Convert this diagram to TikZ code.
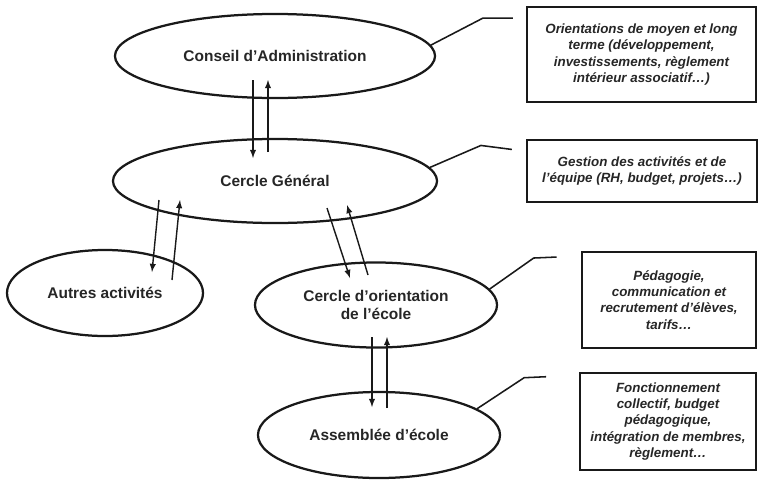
\documentclass[tikz,border=0pt]{standalone}
\usepackage{fontspec}
\setmainfont{Liberation Sans}
\usepackage{tikz}
\usetikzlibrary{arrows,arrows.meta}
\usetikzlibrary{shapes.geometric,calc}
\tikzset{>=latex}
\usepackage{xcolor}
\colorlet{linecol}{black!90}
\colorlet{textcol}{black!85}
\tikzstyle{cercle}=[ellipse,draw=linecol,line width=1.6pt,inner sep=0pt,align=center,
  text=textcol,font=\fontsize{11}{12.5}\selectfont\bfseries]
\tikzstyle{note}=[rectangle,draw=linecol,line width=1.9pt,inner sep=0pt,align=center,
  text=textcol,font=\fontsize{9.5}{11.6}\selectfont\bfseries\itshape]
\tikzstyle{flux}=[->,linecol,line width=1pt]
\tikzstyle{renvoi}=[linecol,line width=1.1pt]

\begin{document}
\begin{tikzpicture}[x=0.025cm,y=-0.025cm]
  \useasboundingbox (0,0) rectangle (758,481);
  % instances
  \node[cercle,minimum width=8cm,minimum height=2.1cm] (ca) at (275,56) {Conseil d’Administration};
  \node[cercle,minimum width=8.1cm,minimum height=2.1cm] (cg) at (275,181) {Cercle Général};
  \node[cercle,minimum width=4.9cm,minimum height=2.15cm] (aa) at (105,293) {Autres activités};
  \node[cercle,minimum width=6.05cm,minimum height=2.125cm] (co) at (376,305) {Cercle d'orientation\\de l'école};
  \node[cercle,minimum width=6.05cm,minimum height=2.15cm] (ae) at (379,435) {Assemblée d'école};
  % roles
  \node[note,minimum width=5.73cm,minimum height=2.375cm] (rca) at (641.5,54.5)
    {Orientations de moyen et long\\terme (développement,\\investissements, règlement\\intérieur associatif…)};
  \node[note,minimum width=5.75cm,minimum height=1.55cm] (rcg) at (642,171)
    {Gestion des activités et de\\l'équipe (RH, budget, projets…)};
  \node[note,minimum width=4.35cm,minimum height=2.4cm] (rco) at (669,300)
    {Pédagogie,\\communication et\\recrutement d'élèves,\\tarifs…};
  \node[note,minimum width=4.4cm,minimum height=2.425cm] (rae) at (668,421.5)
    {Fonctionnement\\collectif, budget\\pédagogique,\\intégration de membres,\\règlement…};
  % echanges
  \draw[flux] ($(ca.center)+(-22,24)$) -- ($(cg.center)+(-22,-23)$);
  \draw[flux] ($(cg.center)+(-7,-29)$) -- ($(ca.center)+(-7,24)$);
  \draw[flux] ($(cg.center)+(-116,19)$) -- ($(aa.center)+(47,-21)$);
  \draw[flux] ($(aa.center)+(67,-13)$) -- ($(cg.center)+(-95,19)$);
  \draw[flux] ($(cg.center)+(52,27)$) -- ($(co.center)+(-26,-27)$);
  \draw[flux] ($(co.center)+(-8,-30)$) -- ($(cg.center)+(72,24)$);
  \draw[flux] ($(co.center)+(-4,32)$) -- ($(ae.center)+(-7,-28)$);
  \draw[flux] ($(ae.center)+(8,-27)$) -- ($(co.center)+(11,32)$);
  % renvois vers les cadres
  \draw[renvoi] (ca.4) -- ++(52,-27) -- ++(30,0);
  \draw[renvoi] (cg.5) -- ++(51,-22) -- ++(31,4);
  \draw[renvoi] (co.8) -- ++(44,-31) -- ++(23,-1);
  \draw[renvoi] (ae.15) -- ++(47,-31) -- ++(22,-1);
\end{tikzpicture}
\end{document}
